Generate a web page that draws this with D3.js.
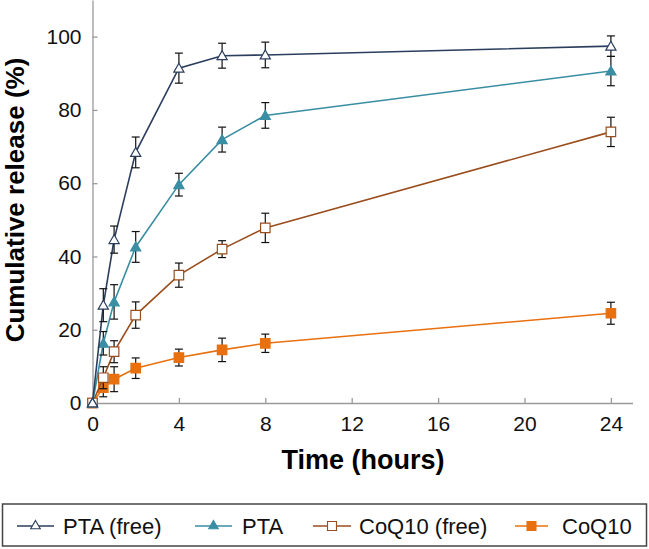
<!DOCTYPE html>
<html><head><meta charset="utf-8">
<script src="https://cdn.jsdelivr.net/npm/d3@7"></script>
<style>body{margin:0;background:#fff}svg{display:block}text{font-family:"Liberation Sans",Arial,sans-serif}</style>
</head><body>
<svg id="c" width="649" height="549"></svg>
<script>
const times = [0, 0.5, 1, 2, 4, 6, 8, 24];
const seriesNames = ["PTA (free)", "PTA", "CoQ10 (free)", "CoQ10"];
const ptaFree = [0, 26.7, 44.6, 68.4, 91.4, 94.8, 95.0, 97.4];
const ptaFreeErr = [0, 4.5, 3.7, 4.2, 4.1, 3.4, 3.5, 2.8];
const pta = [0, 16.3, 27.6, 42.6, 59.6, 71.9, 78.5, 90.6];
const ptaErr = [0, 3.2, 4.7, 4.2, 3.1, 3.4, 3.5, 4.0];
const coqFree = [0, 6.9, 14.0, 24.0, 34.9, 42.0, 47.8, 74.0];
const coqFreeErr = [0, 3.0, 3.0, 3.6, 3.3, 2.3, 4.0, 4.0];
const coq = [0, 4.2, 6.5, 9.5, 12.4, 14.5, 16.3, 24.5];
const coqErr = [0, 2.5, 3.4, 2.8, 2.3, 3.2, 2.5, 3.0];
const xTicks = [0, 4, 8, 12, 16, 20, 24];
const yTicks = [0, 20, 40, 60, 80, 100];

const colors = ["#2b3e5e", "#3a8ea3", "#9a4e1e", "#e8700f"];
const fills = ["#fff", "#3a8ea3", "#fff", "#e8700f"];
const shapes = ["tri", "tri", "sq", "sq"];
const vals = [ptaFree, pta, coqFree, coq];
const errs = [ptaFreeErr, ptaErr, coqFreeErr, coqErr];

const svg = d3.select("#c");
const x = d3.scaleLinear().domain([0, 25]).range([92.5, 632.5]);
const y = d3.scaleLinear().domain([0, 110]).range([403, 0]);

const axisColor = "#9a9a9a";
const gx = svg.append("g").attr("transform", "translate(0,403)")
  .call(d3.axisBottom(x).tickValues(xTicks).tickSizeInner(-5).tickSizeOuter(0).tickPadding(13));
const gy = svg.append("g").attr("transform", "translate(92.5,0)")
  .call(d3.axisLeft(y).tickValues(yTicks).tickSizeInner(-5).tickSizeOuter(0).tickPadding(11));
[gx, gy].forEach(g => {
  g.selectAll("path.domain").attr("stroke", axisColor).attr("stroke-width", 1.3);
  g.selectAll(".tick line").attr("stroke", axisColor).attr("stroke-width", 1.3);
  g.selectAll("text").attr("font-size", 21).attr("fill", "#111")
   .style("font-family", '"Liberation Sans",Arial,sans-serif');
});
gx.selectAll("text").attr("dy", "0.71em");

svg.append("text").attr("x", 363).attr("y", 469).attr("text-anchor", "middle")
  .attr("font-size", 27).attr("font-weight", "bold").attr("fill", "#000").text("Time (hours)");
svg.append("text").attr("transform", "translate(24,200) rotate(-90)").attr("text-anchor", "middle")
  .attr("font-size", 26).attr("font-weight", "bold").attr("fill", "#000").text("Cumulative release (%)");

const tri = d3.symbol().type(d3.symbolTriangle).size(45);
const sq = d3.symbol().type(d3.symbolSquare).size(90);

function drawMarker(g, i, cx, cy) {
  const sym = shapes[i] === "tri" ? tri : sq;
  const dy = shapes[i] === "tri" ? 1 : 0;
  g.append("path").attr("d", sym).attr("transform", `translate(${cx},${cy + dy})`)
    .attr("fill", fills[i]).attr("stroke", colors[i]).attr("stroke-width", 1.2);
}

const line = d3.line().x(d => x(d[0])).y(d => y(d[1]));
[3, 2, 1, 0].forEach(i => {
  const g = svg.append("g");
  const pts = times.map((t, k) => [t, vals[i][k], errs[i][k]]);
  g.append("path").datum(pts).attr("d", line).attr("fill", "none")
    .attr("stroke", colors[i]).attr("stroke-width", 1.6);
  pts.forEach(p => {
    if (p[2] > 0) {
      const cx = x(p[0]), y1 = y(p[1] + p[2]), y2 = y(p[1] - p[2]);
      g.append("line").attr("x1", cx).attr("x2", cx).attr("y1", y1).attr("y2", y2).attr("stroke", "#111").attr("stroke-width", 1.2);
      g.append("line").attr("x1", cx - 4).attr("x2", cx + 4).attr("y1", y1).attr("y2", y1).attr("stroke", "#111").attr("stroke-width", 1.2);
      g.append("line").attr("x1", cx - 4).attr("x2", cx + 4).attr("y1", y2).attr("y2", y2).attr("stroke", "#111").attr("stroke-width", 1.2);
    }
  });
  pts.forEach(p => drawMarker(g, i, x(p[0]), y(p[1])));
});

// legend
svg.append("rect").attr("x", 2.5).attr("y", 504).attr("width", 644).attr("height", 42)
  .attr("fill", "#fff").attr("stroke", "#444").attr("stroke-width", 1.5);
const legLine = [[17, 54], [195, 232], [313, 351], [515, 548]];
const legText = [63, 242, 359, 562];
const lg = svg.append("g");
seriesNames.forEach((name, i) => {
  const [a, b] = legLine[i];
  lg.append("line").attr("x1", a).attr("x2", b).attr("y1", 526).attr("y2", 526)
    .attr("stroke", colors[i]).attr("stroke-width", 1.6);
  const sym = shapes[i] === "tri" ? d3.symbol().type(d3.symbolTriangle).size(40) : d3.symbol().type(d3.symbolSquare).size(80);
  lg.append("path").attr("d", sym).attr("transform", `translate(${(a + b) / 2},${shapes[i] === "tri" ? 526 : 526})`)
    .attr("fill", fills[i]).attr("stroke", colors[i]).attr("stroke-width", 1.1);
  lg.append("text").attr("x", legText[i]).attr("y", 534).attr("font-size", 22).attr("fill", "#111").text(name);
});
</script>
</body></html>
